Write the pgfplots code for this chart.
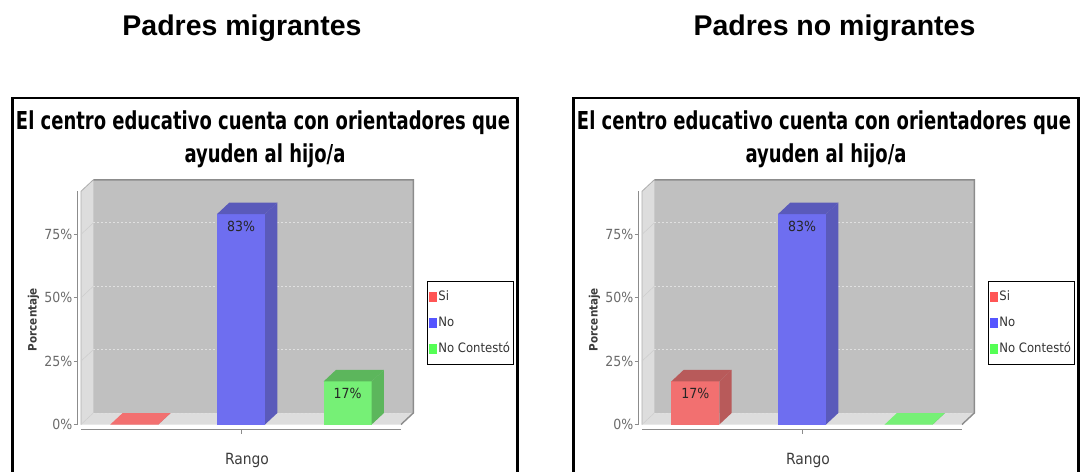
\documentclass[border=0pt]{standalone}
\usepackage{fontspec}
\usepackage{pgfplots}
\pgfplotsset{compat=1.18}
\usepackage{pgfplotstable}
\usepackage{graphicx}
\setmainfont{DejaVu Sans}
\newfontfamily\arialf{Liberation Sans}
\newfontfamily\cond{DejaVu Sans Condensed}

\definecolor{wallback}{HTML}{C0C0C0}
\definecolor{wallside}{HTML}{DDDDDD}
\definecolor{edgegray}{HTML}{8C8C8C}
\definecolor{frontR}{RGB}{242,112,112}
\definecolor{frontB}{RGB}{110,110,240}
\definecolor{frontG}{RGB}{118,240,118}
\definecolor{darkR}{RGB}{184,90,90}
\definecolor{darkB}{RGB}{90,90,186}
\definecolor{darkG}{RGB}{92,182,92}
\definecolor{legR}{RGB}{255,85,85}
\definecolor{legB}{RGB}{85,85,255}
\definecolor{legG}{RGB}{85,255,85}
\definecolor{ticktext}{HTML}{6A6A6A}
\definecolor{labtext}{HTML}{3C3C3C}

\pgfplotstableread{
cat val
0 0
1 83
2 17
}\tabA
\pgfplotstableread{
cat val
0 17
1 83
2 0
}\tabB

\newcommand\titlefont{\cond\bfseries\fontsize{24.7bp}{30bp}\selectfont}
\newlength\tw

\pgfplotsset{
  legsi/.style={legend image code/.code={\fill[legR] (0bp,-5bp) rectangle (7.6bp,5bp);}},
  legno/.style={legend image code/.code={\fill[legB] (0bp,-5bp) rectangle (7.6bp,5bp);}},
  legnc/.style={legend image code/.code={\fill[legG] (0bp,-5bp) rectangle (7.6bp,5bp);}},
  panel/.style={
    scale only axis, width=320bp, height=233.2bp,
    anchor=south west,
    xmin=-0.5, xmax=2.5, ymin=0, ymax=92,
    clip=false,
    axis x line*=bottom, axis y line*=left,
    x axis line style={-, draw=edgegray, line width=1.6bp, yshift=-5bp},
    y axis line style={-, draw=edgegray, line width=1.2bp, xshift=-3.5bp},
    xtick={1}, xticklabels={},
    xtick style={yshift=-5bp, draw=edgegray, line width=0.8bp},
    ytick={0,25,50,75}, minor tick num=0,
    ytick style={xshift=-3.5bp, draw=edgegray, line width=0.8bp},
    tick align=outside, major tick length=4bp,
    /pgf/number format/assume math mode=true,
    yticklabel={\pgfmathprintnumber{\tick}\%},
    yticklabel style={font=\cond\fontsize{14}{14}\selectfont, text=ticktext, xshift=-3bp, inner sep=1.5bp},
    ybar, bar width=0.45, bar shift=0pt,
    nodes near coords={\pgfmathfloatifflags{\pgfplotspointmeta}{0}{}{\pgfmathprintnumber{\pgfplotspointmeta}\%}},
    nodes near coords align={anchor=center, yshift=-12.5bp},
    every node near coord/.append style={font=\cond\fontsize{14}{14}\selectfont, text=black!85},
    legend style={at={(1.080,0.615)}, anchor=north west, draw=black, line width=1.3bp, fill=white,
      inner xsep=2bp, inner ysep=8bp, row sep=11.5bp,
      font=\cond\fontsize{13}{13}\selectfont, text=black!80,
      cells={anchor=west},
      nodes={inner sep=1.5bp, text height=9bp, text depth=2.5bp}},
  }
}

% 3D top and side faces of a bar
\newcommand\bartd[5]{%
  \fill[#4] (axis cs:#1,#3) -- (axis cs:#2,#3) -- ([shift={(12.3bp,11.5bp)}]axis cs:#2,#3) -- ([shift={(12.3bp,11.5bp)}]axis cs:#1,#3) -- cycle;
  \fill[#5] (axis cs:#2,0) -- (axis cs:#2,#3) -- ([shift={(12.3bp,11.5bp)}]axis cs:#2,#3) -- ([shift={(12.3bp,11.5bp)}]axis cs:#2,0) -- cycle;
}

\newcommand\gridl[1]{%
  \draw[white!88!black, dash pattern=on 2bp off 2bp, line width=0.8bp] ([shift={(12.3bp,11.5bp)}]axis cs:-0.5,#1) -- ([shift={(12.3bp,11.5bp)}]axis cs:2.5,#1);
  \draw[white!80!black, line width=0.5bp] (axis cs:-0.5,#1) -- ([shift={(12.3bp,11.5bp)}]axis cs:-0.5,#1);
}

% #1 x offset, #2 table, #3 vSi, #4 vNo, #5 vNC, #6 Si top colour, #7 NC top colour
\newcommand\drawpanel[7]{%
  \begin{scope}[shift={(#1bp,0bp)}, x=1bp, y=-1bp]
    \draw[line width=2.6bp] (12.5,98) rectangle (517.5,490);
    \node[anchor=base, inner sep=0] at (263,129) {\scalebox{\tsc}[1]{\titlefont El centro educativo cuenta con orientadores que}};
    \node[anchor=base, inner sep=0] at (265,162) {\scalebox{\tsc}[1]{\titlefont ayuden al hijo/a}};
    % walls
    \fill[wallback] (93.3,179.8) rectangle (413.3,413);
    \fill[wallside] (81,424.5) -- (81,191.3) -- (93.3,179.8) -- (93.3,413) -- cycle;
    \fill[wallside] (81,424.5) -- (401,424.5) -- (413.3,413) -- (93.3,413) -- cycle;
    \draw[white!68!black, line width=0.8bp] (81,424.5) -- (81,191.3) -- (93.3,179.8);
    \draw[edgegray, line width=1.4bp] (93.3,179.8) -- (413.3,179.8) -- (413.3,413) -- (401,424.5);
    \node[rotate=90, anchor=center, inner sep=0, font=\cond\bfseries\fontsize{11.6}{13}\selectfont, text=labtext] at (33.5,319.5) {Porcentaje};
    \node[anchor=base, inner sep=0, font=\cond\fontsize{15.5}{16}\selectfont, text=labtext] at (247,464) {Rango};
  \end{scope}
  \begin{axis}[panel, at={(81bp+#1bp,-424.5bp)}]
    \gridl{0}\gridl{25}\gridl{50}\gridl{75}
    \addplot[fill=frontR, draw=none, restrict x to domain=-0.5:0.5, legsi] table[x=cat,y=val]{#2};
    \addplot[fill=frontB, draw=none, restrict x to domain=0.5:1.5, legno] table[x=cat,y=val]{#2};
    \addplot[fill=frontG, draw=none, restrict x to domain=1.5:2.5, legnc] table[x=cat,y=val]{#2};
    \bartd{-0.225}{0.225}{#3}{#6}{darkR}
    \bartd{0.775}{1.225}{#4}{darkB}{darkB}
    \bartd{1.775}{2.225}{#5}{#7}{darkG}
    \legend{Si,No,No Contestó}
  \end{axis}
}

\begin{document}
\settowidth\tw{\titlefont El centro educativo cuenta con orientadores que}%
\pgfmathsetmacro\tsc{495.86/\tw}%
\pgfplotstablegetelem{0}{val}\of\tabA\let\aSi\pgfplotsretval
\pgfplotstablegetelem{1}{val}\of\tabA\let\aNo\pgfplotsretval
\pgfplotstablegetelem{2}{val}\of\tabA\let\aNC\pgfplotsretval
\pgfplotstablegetelem{0}{val}\of\tabB\let\bSi\pgfplotsretval
\pgfplotstablegetelem{1}{val}\of\tabB\let\bNo\pgfplotsretval
\pgfplotstablegetelem{2}{val}\of\tabB\let\bNC\pgfplotsretval
\begin{tikzpicture}
\useasboundingbox (0,0) rectangle (1080bp,-472bp);
\fill[white] (0,0) rectangle (1080bp,-472bp);
\begin{scope}[x=1bp, y=-1bp]
  \node[anchor=base, inner sep=0, font=\arialf\bfseries\fontsize{28.6}{30}\selectfont] at (242,35) {Padres migrantes};
  \node[anchor=base, inner sep=0, font=\arialf\bfseries\fontsize{28.6}{30}\selectfont] at (834.5,35) {Padres no migrantes};
\end{scope}
\drawpanel{0}{\tabA}{\aSi}{\aNo}{\aNC}{frontR}{darkG}
\drawpanel{561}{\tabB}{\bSi}{\bNo}{\bNC}{darkR}{frontG}
\end{tikzpicture}
\end{document}
